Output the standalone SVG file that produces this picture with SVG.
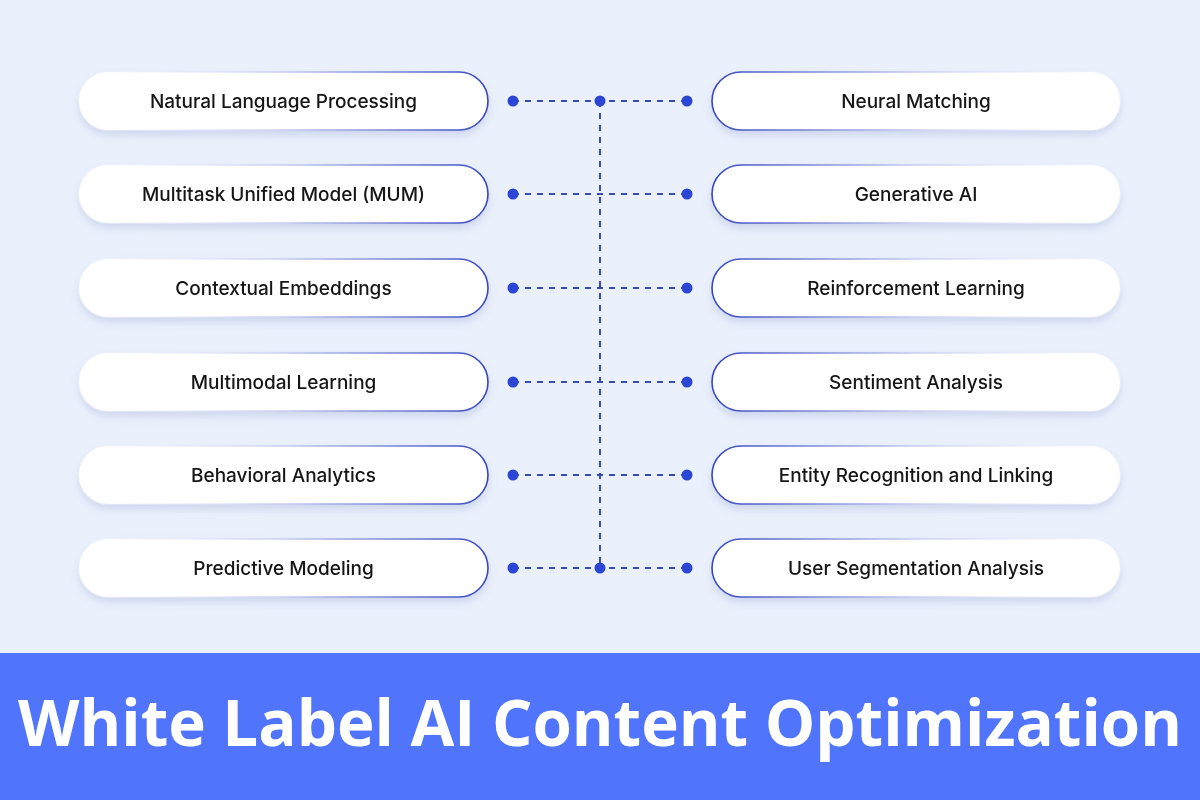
<svg xmlns="http://www.w3.org/2000/svg" width="1200" height="800" viewBox="0 0 1200 800">
<defs>
<style>
.lbl{font-family:Inter,"Noto Sans","Liberation Sans",sans-serif;font-size:19px;font-weight:500;fill:#141414;text-anchor:middle;dominant-baseline:central}
.boxL{fill:#ffffff;stroke:url(#gL);stroke-width:1.6}
.boxR{fill:#ffffff;stroke:url(#gR);stroke-width:1.6}
.dash{stroke:#3a4bb0;stroke-width:2;stroke-dasharray:6 6;fill:none}
.dot{fill:#2b45d4}
</style>
<linearGradient id="gL" x1="0" y1="0" x2="1" y2="0">
<stop offset="0" stop-color="#ffffff" stop-opacity="0.2"/>
<stop offset="0.5" stop-color="#c7cdf0"/>
<stop offset="1" stop-color="#3546c0"/>
</linearGradient>
<linearGradient id="gR" x1="0" y1="0" x2="1" y2="0">
<stop offset="0" stop-color="#3546c0"/>
<stop offset="0.5" stop-color="#c7cdf0"/>
<stop offset="1" stop-color="#ffffff" stop-opacity="0.2"/>
</linearGradient>
<filter id="sh" x="-10%" y="-30%" width="120%" height="170%">
<feDropShadow dx="0" dy="5" stdDeviation="4" flood-color="#4a5aa8" flood-opacity="0.18"/>
</filter>
</defs>
<rect x="0" y="0" width="1200" height="800" fill="#ebf1fc"/>

<g id="connectors">
<line class="dash" x1="600" y1="101" x2="600" y2="568"/>
<line class="dash" x1="513" y1="101" x2="687" y2="101"/>
<line class="dash" x1="513" y1="194" x2="687" y2="194"/>
<line class="dash" x1="513" y1="288" x2="687" y2="288"/>
<line class="dash" x1="513" y1="382" x2="687" y2="382"/>
<line class="dash" x1="513" y1="475" x2="687" y2="475"/>
<line class="dash" x1="513" y1="568" x2="687" y2="568"/>
<circle class="dot" cx="513" cy="101" r="5.5"/><circle class="dot" cx="600" cy="101" r="5.5"/><circle class="dot" cx="687" cy="101" r="5.5"/>
<circle class="dot" cx="513" cy="194" r="5.5"/><circle class="dot" cx="687" cy="194" r="5.5"/>
<circle class="dot" cx="513" cy="288" r="5.5"/><circle class="dot" cx="687" cy="288" r="5.5"/>
<circle class="dot" cx="513" cy="382" r="5.5"/><circle class="dot" cx="687" cy="382" r="5.5"/>
<circle class="dot" cx="513" cy="475" r="5.5"/><circle class="dot" cx="687" cy="475" r="5.5"/>
<circle class="dot" cx="513" cy="568" r="5.5"/><circle class="dot" cx="600" cy="568" r="5.5"/><circle class="dot" cx="687" cy="568" r="5.5"/>
</g>

<g id="n-nlp" filter="url(#sh)"><rect class="boxL" x="79" y="72" width="409" height="58" rx="29"/><text class="lbl" x="283.5" y="101">Natural Language Processing</text></g>
<g id="n-mum" filter="url(#sh)"><rect class="boxL" x="79" y="165" width="409" height="58" rx="29"/><text class="lbl" x="283.5" y="194">Multitask Unified Model (MUM)</text></g>
<g id="n-ctx" filter="url(#sh)"><rect class="boxL" x="79" y="259" width="409" height="58" rx="29"/><text class="lbl" x="283.5" y="288">Contextual Embeddings</text></g>
<g id="n-mml" filter="url(#sh)"><rect class="boxL" x="79" y="353" width="409" height="58" rx="29"/><text class="lbl" x="283.5" y="382">Multimodal Learning</text></g>
<g id="n-beh" filter="url(#sh)"><rect class="boxL" x="79" y="446" width="409" height="58" rx="29"/><text class="lbl" x="283.5" y="475">Behavioral Analytics</text></g>
<g id="n-pred" filter="url(#sh)"><rect class="boxL" x="79" y="539" width="409" height="58" rx="29"/><text class="lbl" x="283.5" y="568">Predictive Modeling</text></g>

<g id="n-neural" filter="url(#sh)"><rect class="boxR" x="712" y="72" width="408" height="58" rx="29"/><text class="lbl" x="916" y="101">Neural Matching</text></g>
<g id="n-gen" filter="url(#sh)"><rect class="boxR" x="712" y="165" width="408" height="58" rx="29"/><text class="lbl" x="916" y="194">Generative AI</text></g>
<g id="n-rl" filter="url(#sh)"><rect class="boxR" x="712" y="259" width="408" height="58" rx="29"/><text class="lbl" x="916" y="288">Reinforcement Learning</text></g>
<g id="n-sent" filter="url(#sh)"><rect class="boxR" x="712" y="353" width="408" height="58" rx="29"/><text class="lbl" x="916" y="382">Sentiment Analysis</text></g>
<g id="n-ent" filter="url(#sh)"><rect class="boxR" x="712" y="446" width="408" height="58" rx="29"/><text class="lbl" x="916" y="475">Entity Recognition and Linking</text></g>
<g id="n-seg" filter="url(#sh)"><rect class="boxR" x="712" y="539" width="408" height="58" rx="29"/><text class="lbl" x="916" y="568">User Segmentation Analysis</text></g>

<g id="banner">
<rect x="0" y="653" width="1200" height="147" fill="#5074fc"/>
<text x="600" y="746" font-family="'Open Sans',Inter,'Liberation Sans',sans-serif" font-size="65" font-weight="700" fill="#ffffff" text-anchor="middle" textLength="1164" lengthAdjust="spacingAndGlyphs">White Label AI Content Optimization</text>
</g>
</svg>
